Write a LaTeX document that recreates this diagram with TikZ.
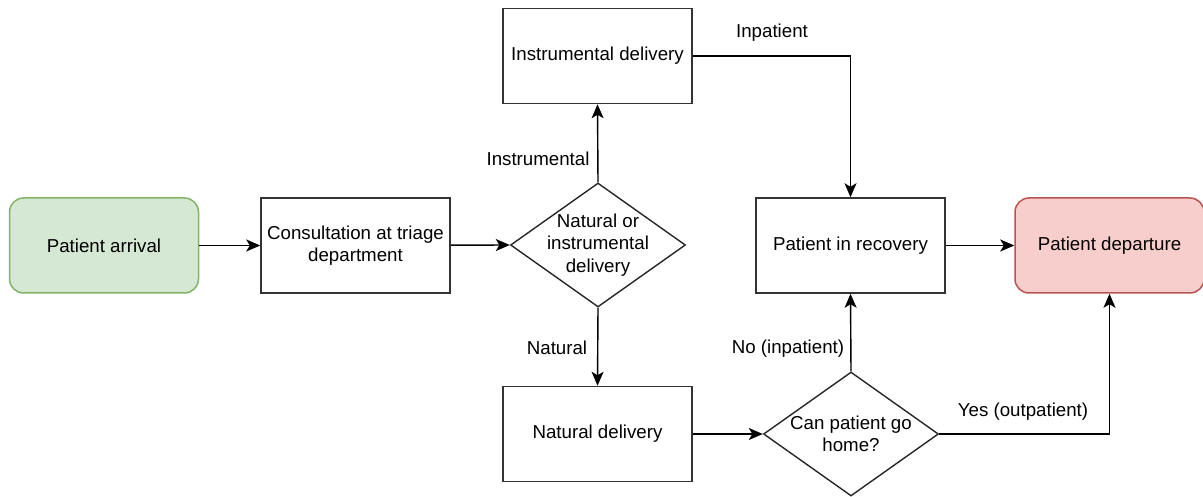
\documentclass[tikz,border=0pt]{standalone}
\usepackage{fontspec}
\setmainfont{Liberation Sans}
\usepackage{xcolor}
\usetikzlibrary{arrows.meta,shapes,positioning,calc}

\definecolor{startfill}{HTML}{D5E8D4}
\definecolor{startline}{HTML}{82B366}
\definecolor{endfill}{HTML}{F8CECC}
\definecolor{endline}{HTML}{B85450}

\tikzset{
	box/.style={shape=rectangle,draw=black!80,line width=1.5pt,minimum width=189pt,minimum height=95pt,align=center,inner sep=2pt},
	terminal/.style={box,rounded corners=14pt},
	decision/.style={shape=diamond,draw=black!85,line width=1.4pt,minimum width=175pt,minimum height=124pt,inner sep=0pt},
	lbl/.style={align=center,inner sep=0pt},
	flow/.style={line width=1.4pt,-{Stealth[length=14pt,width=12pt,inset=3.5pt]}}
}

\begin{document}
\begin{tikzpicture}[x=1pt,y=-1pt,font=\fontsize{18.7}{22.5}\selectfont]
	\useasboundingbox (0,0) rectangle (1203,497);
	\node[terminal,fill=startfill,draw=startline](PA) at (104,245.5) {Patient arrival};
	\node[box](CT) at (355.5,245.5) {Consultation at triage\\department};
	\node[decision](NI) at (598,245) {};
	\node[lbl](NIt) at (NI) {Natural or\\instrumental\\delivery};
	\node[box](ID) at (597.5,56) {Instrumental delivery};
	\node[box](ND) at (597.5,434) {Natural delivery};
	\node[decision](GH) at (851,434) {};
	\node[lbl](GHt) at (851,434) {Can patient go\\home?};
	\node[box](PR) at (850.5,245.5) {Patient in recovery};
	\node[terminal,fill=endfill,draw=endline](PD) at (1109.5,245.5) {Patient departure};
	% edge labels
	\node[lbl](lI) at (538,159) {Instrumental};
	\node[lbl](lN) at (557,348) {Natural};
	\node[lbl](lIn) at (772,33) {Inpatient};
	\node[lbl](lNo) at (788,349) {No (inpatient)};
	\node[lbl](lYes) at (1023,412) {Yes (outpatient)};
	% connectors
	\path[flow](PA) edge (CT);
	\path[flow](CT) edge (NI.west);
	\path[flow](NI.north) edge (ID.south);
	\path[flow](NI.south) edge (ND.north);
	\draw[flow](ID.east) -| (PR.north);
	\path[flow](ND.east) edge (GH.west);
	\path[flow](GH.north) edge (PR.south);
	\draw[flow](GH.east) -| (PD.south);
	\path[flow](PR) edge (PD);
\end{tikzpicture}
\end{document}
